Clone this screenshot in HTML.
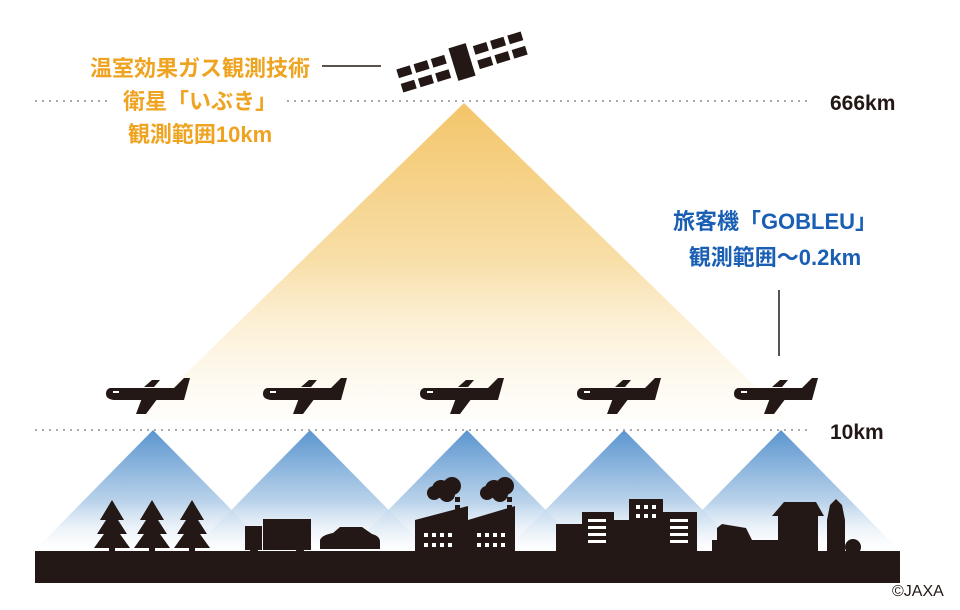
<!DOCTYPE html>
<html><head><meta charset="utf-8"><style>
html,body{margin:0;padding:0;background:#fff;width:960px;height:610px;overflow:hidden}
svg{display:block}
text{font-family:"Liberation Sans","Noto Sans CJK JP",sans-serif;font-weight:bold}
</style></head><body>
<svg width="960" height="610" viewBox="0 0 960 610">
<defs>
<linearGradient id="og" x1="0" y1="0" x2="0" y2="1">
<stop offset="0" stop-color="#f3c56a"/><stop offset="0.5" stop-color="#f8dfa8"/><stop offset="1" stop-color="#fffaf0" stop-opacity="0.3"/>
</linearGradient>
<linearGradient id="bg" x1="0" y1="0" x2="0" y2="1">
<stop offset="0" stop-color="#5b95cf"/><stop offset="0.6" stop-color="#bcd4eb"/><stop offset="1" stop-color="#ffffff" stop-opacity="0.2"/>
</linearGradient>
<g id="pl">
<path d="M-38,-6 L26,-6 L36,-16 L42,-16 L36,6 L-34,6 Q-42,5 -42,0 Q-42,-5 -38,-6Z" fill="#231815"/>
<path d="M-6,4 L10,4 L-2,20 L-12,20Z" fill="#231815"/>
<path d="M-4,-7 L6,-7 L12,-14 L4,-14Z" fill="#231815"/>
<rect x="-35" y="-3" width="6" height="2" fill="#fff"/>
</g>
<g id="bt"><path d="M0,-122 L120,0 L-120,0Z" fill="url(#bg)"/></g>
</defs>
<path d="M464,103 L790,420 L138,420Z" fill="url(#og)"/>
<use href="#bt" x="153" y="552"/><use href="#bt" x="310" y="552"/><use href="#bt" x="467" y="552"/><use href="#bt" x="624" y="552"/><use href="#bt" x="781" y="552"/>
<line x1="35" y1="101" x2="812" y2="101" stroke="#aaa" stroke-width="2" stroke-dasharray="2 5"/>
<line x1="35" y1="430" x2="812" y2="430" stroke="#aaa" stroke-width="2" stroke-dasharray="2 5"/>
<rect x="110" y="86" width="176" height="26" fill="#fff"/>
<text x="200" y="76" font-size="22" fill="#eea321" text-anchor="middle">温室効果ガス観測技術</text>
<text x="200" y="109" font-size="22" fill="#eea321" text-anchor="middle">衛星「いぶき」</text>
<text x="200" y="142" font-size="22" fill="#eea321" text-anchor="middle">観測範囲10km</text>
<line x1="322" y1="66" x2="381" y2="66" stroke="#231815" stroke-width="1.5"/>
<g transform="translate(462,62) rotate(-17)" fill="#231815">
<rect x="-9" y="-17" width="18" height="34"/>
<rect x="-65" y="-12" width="14" height="9"/><rect x="-47" y="-12" width="14" height="9"/><rect x="-29" y="-12" width="14" height="9"/>
<rect x="-65" y="3" width="14" height="9"/><rect x="-47" y="3" width="14" height="9"/><rect x="-29" y="3" width="14" height="9"/>
<rect x="15" y="-12" width="14" height="9"/><rect x="33" y="-12" width="14" height="9"/><rect x="51" y="-12" width="14" height="9"/>
<rect x="15" y="3" width="14" height="9"/><rect x="33" y="3" width="14" height="9"/><rect x="51" y="3" width="14" height="9"/>
</g>
<text x="830" y="110" font-size="21" fill="#231815">666km</text>
<text x="830" y="439" font-size="21" fill="#231815">10km</text>
<text x="775" y="229" font-size="22" fill="#1a5fb4" text-anchor="middle">旅客機「GOBLEU」</text>
<text x="775" y="265" font-size="22" fill="#1a5fb4" text-anchor="middle">観測範囲～0.2km</text>
<line x1="779" y1="290" x2="779" y2="356" stroke="#231815" stroke-width="1.5"/>
<use href="#pl" x="148" y="394"/><use href="#pl" x="305" y="394"/><use href="#pl" x="462" y="394"/><use href="#pl" x="619" y="394"/><use href="#pl" x="776" y="394"/>
<g fill="#231815">
<rect x="35" y="551" width="865" height="32"/>
<g id="tr"><path d="M112,500 L124,520 L118,520 L127,534 L120,534 L130,548 L94,548 L104,534 L97,534 L106,520 L100,520Z"/><rect x="109" y="545" width="6" height="8"/></g>
<use href="#tr" x="40"/><use href="#tr" x="80"/>
<rect x="263" y="519" width="48" height="31"/><path d="M245,526 L262,526 L262,550 L245,550Z"/>
<circle cx="254" cy="550" r="4"/><circle cx="300" cy="550" r="4"/>
<path d="M320,540 Q322,535 333,533 L340,527 L362,527 L372,534 Q380,536 380,542 L380,549 L320,549Z"/>
<path d="M415,520 L468,506 L468,520 L515,506 L515,551 L415,551Z"/>
<rect x="455" y="505" width="5" height="6"/><rect x="455" y="497" width="5" height="5"/><rect x="507" y="505" width="5" height="6"/><rect x="507" y="497" width="5" height="5"/>
<circle cx="441" cy="489" r="9"/><circle cx="452" cy="486" r="9"/><circle cx="447" cy="494" r="8"/><circle cx="434" cy="493" r="7"/>
<circle cx="494" cy="489" r="9"/><circle cx="505" cy="486" r="9"/><circle cx="500" cy="494" r="8"/><circle cx="487" cy="493" r="7"/>
<rect x="556" y="524" width="30" height="28"/><rect x="582" y="512" width="32" height="40"/><rect x="614" y="520" width="16" height="32"/><rect x="629" y="499" width="34" height="53"/><rect x="663" y="512" width="34" height="40"/>
<rect x="712" y="540" width="70" height="12"/><path d="M717,528 L722,524 L746,528 L752,540 L752,552 L717,552Z"/>
<rect x="778" y="514" width="40" height="38"/><path d="M772,516 L784,502 L816,502 L824,516Z"/>
<path d="M827,520 L830,505 L836,499 L842,505 L845,520 L845,552 L827,552Z"/><circle cx="853" cy="547" r="8"/>
</g>
<g fill="#fff">
<rect x="424" y="533" width="4" height="4"/><rect x="432" y="533" width="4" height="4"/><rect x="440" y="533" width="4" height="4"/><rect x="448" y="533" width="4" height="4"/>
<rect x="424" y="543" width="4" height="4"/><rect x="432" y="543" width="4" height="4"/><rect x="440" y="543" width="4" height="4"/><rect x="448" y="543" width="4" height="4"/>
<rect x="477" y="533" width="4" height="4"/><rect x="485" y="533" width="4" height="4"/><rect x="493" y="533" width="4" height="4"/><rect x="501" y="533" width="4" height="4"/>
<rect x="477" y="543" width="4" height="4"/><rect x="485" y="543" width="4" height="4"/><rect x="493" y="543" width="4" height="4"/><rect x="501" y="543" width="4" height="4"/>
<rect x="588" y="519" width="18" height="3"/><rect x="588" y="526" width="18" height="3"/><rect x="588" y="533" width="18" height="3"/><rect x="588" y="540" width="18" height="3"/>
<rect x="670" y="519" width="18" height="3"/><rect x="670" y="526" width="18" height="3"/><rect x="670" y="533" width="18" height="3"/><rect x="670" y="540" width="18" height="3"/>
<rect x="636" y="505" width="4" height="4"/><rect x="644" y="505" width="4" height="4"/><rect x="652" y="505" width="4" height="4"/>
<rect x="636" y="514" width="4" height="4"/><rect x="644" y="514" width="4" height="4"/><rect x="652" y="514" width="4" height="4"/>
</g>
<text x="892" y="596" font-size="16" fill="#231815" style="font-weight:normal">©JAXA</text>
</svg>
</body></html>
